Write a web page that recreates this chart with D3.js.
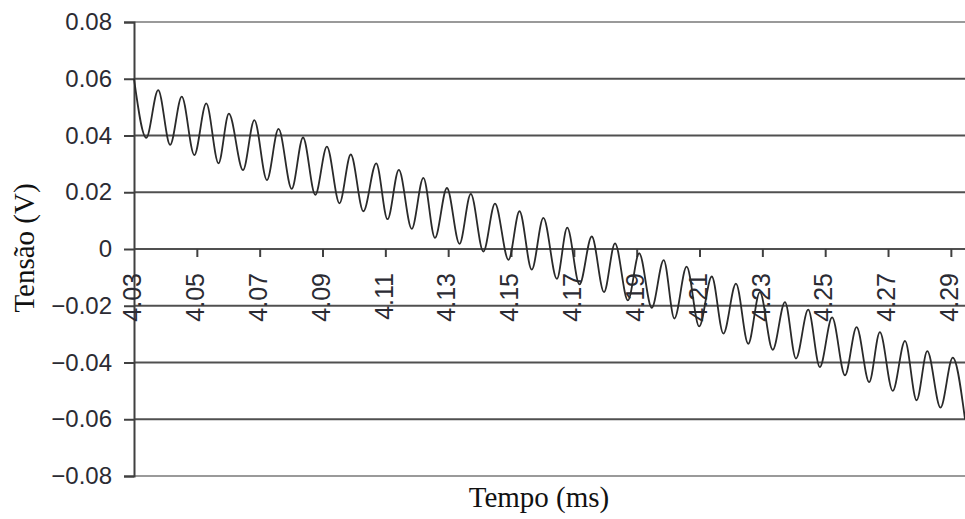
<!DOCTYPE html>
<html>
<head>
  <meta charset="utf-8">
  <style>
    body { margin: 0; background: #fff; }
    .tick text { font-family: "Liberation Sans", Arial, sans-serif; fill: #2b2b33; }
    .title { font-family: "Liberation Serif", "Times New Roman", serif; fill: #111; }
  </style>
</head>
<body>
  <script src="https://d3js.org/d3.v7.min.js"></script>
  <script>
    // values: turning points of the waveform
    const tempo = [4.0300, 4.0339, 4.0377, 4.0415, 4.0452, 4.0492, 4.0530, 4.0569, 4.0602, 4.0647,
      4.0683, 4.0723, 4.0760, 4.0802, 4.0838, 4.0877, 4.0914, 4.0954, 4.0990, 4.1030,
      4.1071, 4.1107, 4.1143, 4.1184, 4.1221, 4.1258, 4.1296, 4.1336, 4.1372, 4.1412,
      4.1449, 4.1492, 4.1527, 4.1566, 4.1603, 4.1646, 4.1679, 4.1718, 4.1757, 4.1796,
      4.1831, 4.1872, 4.1908, 4.1948, 4.1986, 4.2020, 4.2059, 4.2099, 4.2139, 4.2176,
      4.2216, 4.2255, 4.2292, 4.2333, 4.2372, 4.2407, 4.2446, 4.2483, 4.2522, 4.2563,
      4.2600, 4.2640, 4.2674, 4.2715, 4.2754, 4.2791, 4.2825, 4.2867, 4.2906, 4.2945];
    const tensao = [0.0600, 0.0392, 0.0560, 0.0367, 0.0537, 0.0331, 0.0513, 0.0302, 0.0477, 0.0278,
      0.0454, 0.0243, 0.0423, 0.0212, 0.0393, 0.0191, 0.0361, 0.0161, 0.0333, 0.0133,
      0.0302, 0.0105, 0.0279, 0.0071, 0.0251, 0.0039, 0.0215, 0.0018, 0.0194, -0.0009,
      0.0160, -0.0038, 0.0133, -0.0073, 0.0110, -0.0105, 0.0075, -0.0125, 0.0044, -0.0152,
      0.0020, -0.0181, -0.0015, -0.0207, -0.0039, -0.0245, -0.0062, -0.0273, -0.0097, -0.0298,
      -0.0122, -0.0334, -0.0152, -0.0355, -0.0187, -0.0386, -0.0214, -0.0416, -0.0241, -0.0445,
      -0.0275, -0.0469, -0.0293, -0.0500, -0.0324, -0.0533, -0.0360, -0.0559, -0.0383, -0.0600];

    const yTicks = [-0.08, -0.06, -0.04, -0.02, 0, 0.02, 0.04, 0.06, 0.08];
    const xTicks = [4.03, 4.05, 4.07, 4.09, 4.11, 4.13, 4.15, 4.17, 4.19, 4.21, 4.23, 4.25, 4.27, 4.29];

    const w = 965;
    const h = 519;

    const x = d3.scaleLinear().domain([4.03, 4.2945]).range([134, 965]);
    const y = d3.scaleLinear().domain([-0.08, 0.08]).range([476, 22]);

    const svg = d3.select("body").append("svg")
      .attr("width", w)
      .attr("height", h);

    // horizontal grid lines
    svg.append("g").selectAll("line")
      .data(yTicks)
      .join("line")
      .attr("x1", 134).attr("x2", w)
      .attr("y1", d => y(d)).attr("y2", d => y(d))
      .attr("stroke", d => Math.abs(d) === 0.08 ? "#9a9a9a" : "#505050")
      .attr("stroke-width", 2);

    const fmt = d => d === 0 ? "0" : d3.format(".2f")(d).replace("-", "\u2212");

    const yAxis = svg.append("g")
      .attr("transform", "translate(134,0)")
      .call(d3.axisLeft(y).tickValues(yTicks).tickFormat(fmt).tickSize(10).tickPadding(12));
    yAxis.select(".domain").attr("stroke", "#404040").attr("stroke-width", 2);
    yAxis.selectAll(".tick line").attr("stroke", "#404040").attr("stroke-width", 2);
    yAxis.selectAll(".tick text").attr("font-size", 24);

    const xAxis = svg.append("g")
      .attr("transform", "translate(0," + y(0) + ")")
      .call(d3.axisBottom(x).tickValues(xTicks).tickFormat(d3.format(".2f")).tickSize(8));
    xAxis.select(".domain").remove();
    xAxis.selectAll(".tick line").attr("stroke", "#404040").attr("stroke-width", 2)
      .filter(d => d === 4.03).remove();
    xAxis.selectAll(".tick text")
      .attr("font-size", 25)
      .attr("transform", "rotate(-90)")
      .attr("text-anchor", "end")
      .attr("x", -24)
      .attr("y", -2)
      .attr("dy", "0.35em");

    // waveform
    const pts = tempo.map((t, i) => [t, tensao[i]]);
    svg.append("path")
      .datum(pts)
      .attr("fill", "none")
      .attr("stroke", "#2a2a2a")
      .attr("stroke-width", 1.8)
      .attr("d", d3.line().x(d => x(d[0])).y(d => y(d[1])).curve(d3.curveMonotoneX));

    svg.append("text")
      .attr("class", "title")
      .attr("x", 539).attr("y", 507)
      .attr("text-anchor", "middle")
      .attr("font-size", 29)
      .text("Tempo (ms)");

    svg.append("text")
      .attr("class", "title")
      .attr("transform", "translate(34,248) rotate(-90)")
      .attr("text-anchor", "middle")
      .attr("font-size", 29)
      .text("Tensão (V)");
  </script>
</body>
</html>
